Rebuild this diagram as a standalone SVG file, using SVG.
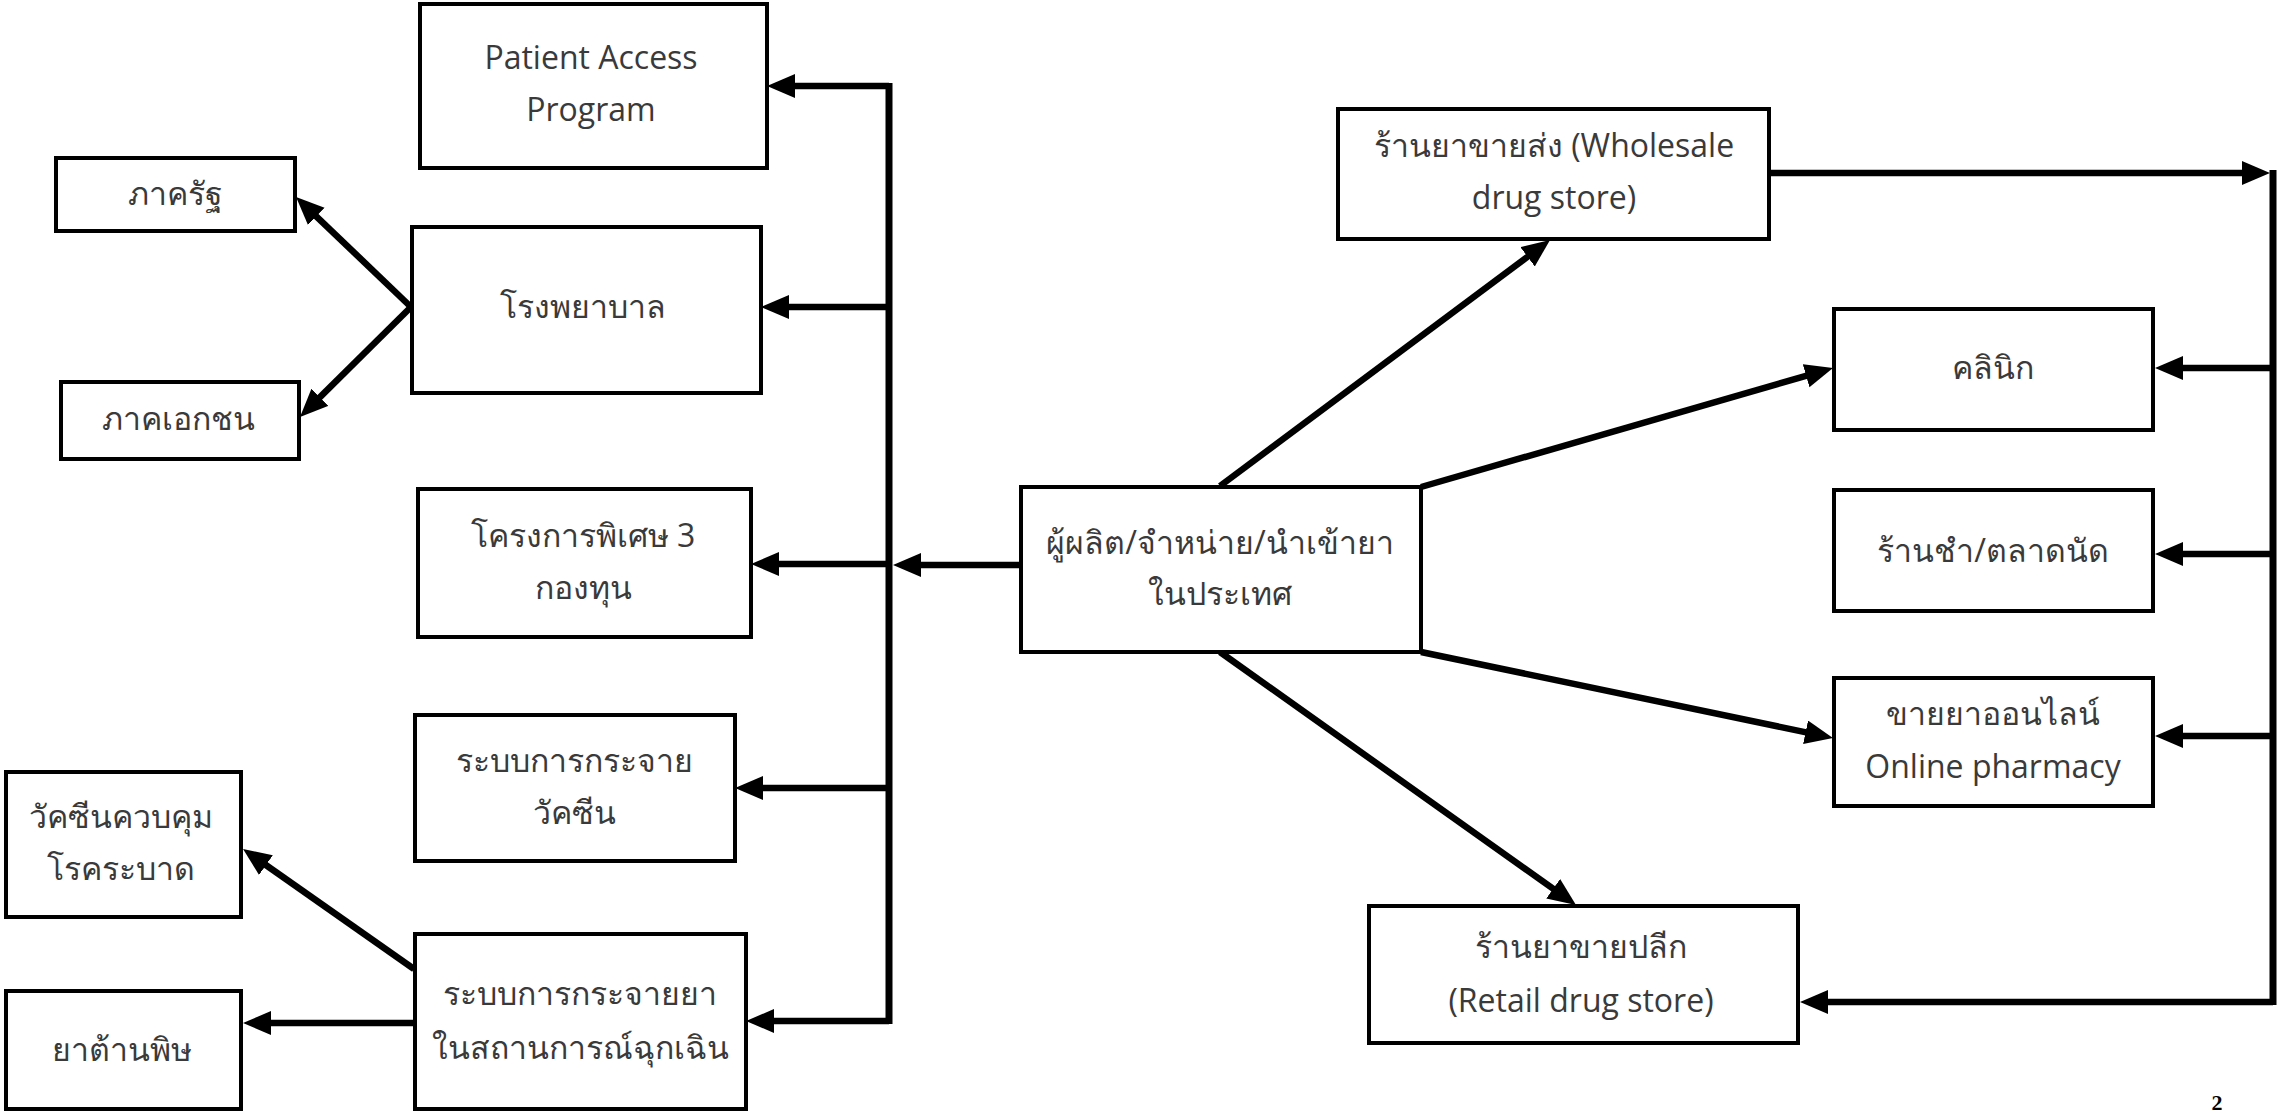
<svg xmlns="http://www.w3.org/2000/svg" width="2277" height="1112" viewBox="0 0 2277 1112">
<style>
.box{fill:#fff;stroke:#000;stroke-width:4}
.t{font-family:"Open Sans","Noto Sans","DejaVu Sans",sans-serif;font-size:32px;fill:#3a3a3a;text-anchor:middle}
.c{fill:none;stroke:#000;stroke-width:6.5}
.tr{fill:none;stroke:#000;stroke-width:7}
</style>
<defs>
<marker id="ah" markerUnits="userSpaceOnUse" markerWidth="30" markerHeight="26" refX="8" refY="12" orient="auto">
<path d="M0,0 L28,12 L0,24 z" fill="#000"/>
</marker>
</defs>
<rect width="2277" height="1112" fill="#fff"/>
<g id="connectors">
<line class="tr" x1="889" y1="83" x2="889" y2="1024"/>
<line class="c" x1="889" y1="86" x2="787" y2="86" marker-end="url(#ah)"/>
<line class="c" x1="889" y1="307" x2="781" y2="307" marker-end="url(#ah)"/>
<line class="c" x1="889" y1="564" x2="771" y2="564" marker-end="url(#ah)"/>
<line class="c" x1="889" y1="788" x2="755" y2="788" marker-end="url(#ah)"/>
<line class="c" x1="889" y1="1021" x2="766" y2="1021" marker-end="url(#ah)"/>
<line class="c" x1="1021" y1="565" x2="913" y2="565" marker-end="url(#ah)"/>
<line class="c" x1="411" y1="307" x2="310.5" y2="210.8" marker-end="url(#ah)"/>
<line class="c" x1="411" y1="307" x2="314.2" y2="402.9" marker-end="url(#ah)"/>
<line class="c" x1="414" y1="969" x2="259.4" y2="860.5" marker-end="url(#ah)"/>
<line class="c" x1="414" y1="1023" x2="263" y2="1023" marker-end="url(#ah)"/>
<line class="c" x1="1220" y1="486" x2="1534" y2="252" marker-end="url(#ah)"/>
<line class="c" x1="1421" y1="487" x2="1813.8" y2="373.6" marker-end="url(#ah)"/>
<line class="c" x1="1421" y1="652" x2="1813.4" y2="733.9" marker-end="url(#ah)"/>
<line class="c" x1="1220" y1="652" x2="1559.7" y2="893.4" marker-end="url(#ah)"/>
<line class="c" x1="1769" y1="173" x2="2250" y2="173" marker-end="url(#ah)"/>
<line class="tr" x1="2273" y1="170" x2="2273" y2="1005"/>
<line class="c" x1="2273" y1="368" x2="2175" y2="368" marker-end="url(#ah)"/>
<line class="c" x1="2273" y1="554" x2="2175" y2="554" marker-end="url(#ah)"/>
<line class="c" x1="2273" y1="736" x2="2175" y2="736" marker-end="url(#ah)"/>
<line class="c" x1="2273" y1="1002" x2="1820" y2="1002" marker-end="url(#ah)"/>
</g>
<g id="n-pap"><rect class="box" x="420" y="4" width="347" height="164"/><text class="t" x="591" y="69">Patient Access</text><text class="t" x="591" y="121">Program</text></g>
<g id="n-public"><rect class="box" x="56" y="158" width="239" height="73"/><text class="t" x="175" y="205">ภาครัฐ</text></g>
<g id="n-hospital"><rect class="box" x="412" y="227" width="349" height="166"/><text class="t" x="583" y="318">โรงพยาบาล</text></g>
<g id="n-private"><rect class="box" x="61" y="382" width="238" height="77"/><text class="t" x="178" y="430">ภาคเอกชน</text></g>
<g id="n-special"><rect class="box" x="418" y="489" width="333" height="148"/><text class="t" x="583" y="547">โครงการพิเศษ 3</text><text class="t" x="583" y="599">กองทุน</text></g>
<g id="n-vaccine"><rect class="box" x="415" y="715" width="320" height="146"/><text class="t" x="574" y="772">ระบบการกระจาย</text><text class="t" x="574" y="824">วัคซีน</text></g>
<g id="n-epidemic"><rect class="box" x="6" y="772" width="235" height="145"/><text class="t" x="121" y="828">วัคซีนควบคุม</text><text class="t" x="121" y="880">โรคระบาด</text></g>
<g id="n-emergency"><rect class="box" x="415" y="934" width="331" height="175"/><text class="t" x="580" y="1005">ระบบการกระจายยา</text><text class="t" x="580" y="1059">ในสถานการณ์ฉุกเฉิน</text></g>
<g id="n-antidote"><rect class="box" x="6" y="991" width="235" height="118"/><text class="t" x="122" y="1061">ยาต้านพิษ</text></g>
<g id="n-center"><rect class="box" x="1021" y="487" width="400" height="165"/><text class="t" x="1220" y="554">ผู้ผลิต/จำหน่าย/นำเข้ายา</text><text class="t" x="1220" y="605">ในประเทศ</text></g>
<g id="n-wholesale"><rect class="box" x="1338" y="109" width="431" height="130"/><text class="t" x="1554" y="157">ร้านยาขายส่ง (Wholesale</text><text class="t" x="1554" y="209">drug store)</text></g>
<g id="n-clinic"><rect class="box" x="1834" y="309" width="319" height="121"/><text class="t" x="1993" y="379">คลินิก</text></g>
<g id="n-grocery"><rect class="box" x="1834" y="490" width="319" height="121"/><text class="t" x="1993" y="562">ร้านชำ/ตลาดนัด</text></g>
<g id="n-online"><rect class="box" x="1834" y="678" width="319" height="128"/><text class="t" x="1993" y="725">ขายยาออนไลน์</text><text class="t" x="1993" y="778">Online pharmacy</text></g>
<g id="n-retail"><rect class="box" x="1369" y="906" width="429" height="137"/><text class="t" x="1581" y="958">ร้านยาขายปลีก</text><text class="t" x="1581" y="1012">(Retail drug store)</text></g>
<text x="2217" y="1110" style="font-family:'Liberation Serif',serif;font-size:22px;font-weight:bold;fill:#000;text-anchor:middle">2</text>
</svg>
